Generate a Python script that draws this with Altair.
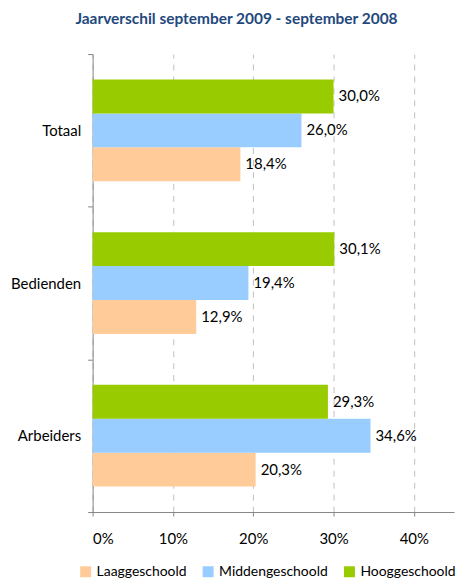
import altair as alt
import pandas as pd

categories = ["Totaal", "Bedienden", "Arbeiders"]
series = ["Laaggeschoold", "Middengeschoold", "Hooggeschoold"]
laag = [18.4, 12.9, 20.3]
midden = [26.0, 19.4, 34.6]
hoog = [30.0, 30.1, 29.3]
colors = ["#FFCC99", "#99CCFF", "#99CC00"]
x_ticks = [0, 0.1, 0.2, 0.3, 0.4]

rows = []
for s, vals in zip(series, [laag, midden, hoog]):
    for c, v in zip(categories, vals):
        rows.append({
            "categorie": c,
            "reeks": s,
            "waarde": v / 100,
            "label": f"{v:.1f}".replace(".", ",") + "%",
        })
df = pd.DataFrame(rows)

font = "Lato"
fs = 15

y = alt.Y(
    "categorie:N",
    sort=categories,
    title=None,
    scale=alt.Scale(paddingInner=0, paddingOuter=0),
    axis=alt.Axis(
        tickBand="extent", tickSize=5, labelFontSize=fs, labelColor="#000000",
        labelPadding=7, domainColor="#868686", tickColor="#868686", labelFont=font,
    ),
)
yoff = alt.YOffset(
    "reeks:N", sort=series[::-1],
    scale=alt.Scale(paddingInner=0, paddingOuter=0.75),
)
x = alt.X(
    "waarde:Q",
    title=None,
    scale=alt.Scale(domain=[0, 0.45], nice=False),
    axis=alt.Axis(
        values=x_ticks, format="%", grid=True, gridDash=[6, 6], gridColor="#C0C0C0",
        domainColor="#868686", tickColor="#868686", tickSize=4, labelFontSize=fs,
        labelColor="#000000", labelPadding=16, labelFont=font,
    ),
)
color = alt.Color(
    "reeks:N",
    scale=alt.Scale(domain=series, range=colors),
    legend=alt.Legend(
        title=None, orient="none", direction="horizontal", legendX=-14, legendY=513,
        symbolType="square", symbolSize=121, symbolStrokeWidth=0, labelFontSize=14,
        labelFont=font, labelColor="#000000", columnPadding=14, symbolOpacity=1,
    ),
)

base = alt.Chart(df)
bars = base.mark_bar(opacity=1).encode(x=x, y=y, yOffset=yoff, color=color)
labels = base.mark_text(align="left", baseline="middle", dx=5, fontSize=fs, font=font, color="#000000").encode(
    x="waarde:Q", y=alt.Y("categorie:N", sort=categories), yOffset=yoff, text="label:N"
)

chart = (
    alt.layer(bars, labels)
    .properties(
        width=363,
        height=460,
        title=alt.TitleParams(
            "Jaarverschil september 2009 - september 2008",
            fontSize=15.5, fontWeight="bold", color="#1F497D", font=font,
            anchor="middle", frame="group", dx=-37, offset=20,
        ),
        padding={"top": 2, "left": 2, "right": 0, "bottom": 0},
    )
    .configure_view(stroke=None)
)

chart.save("out.html", embed_options={"renderer": "svg", "actions": False})
